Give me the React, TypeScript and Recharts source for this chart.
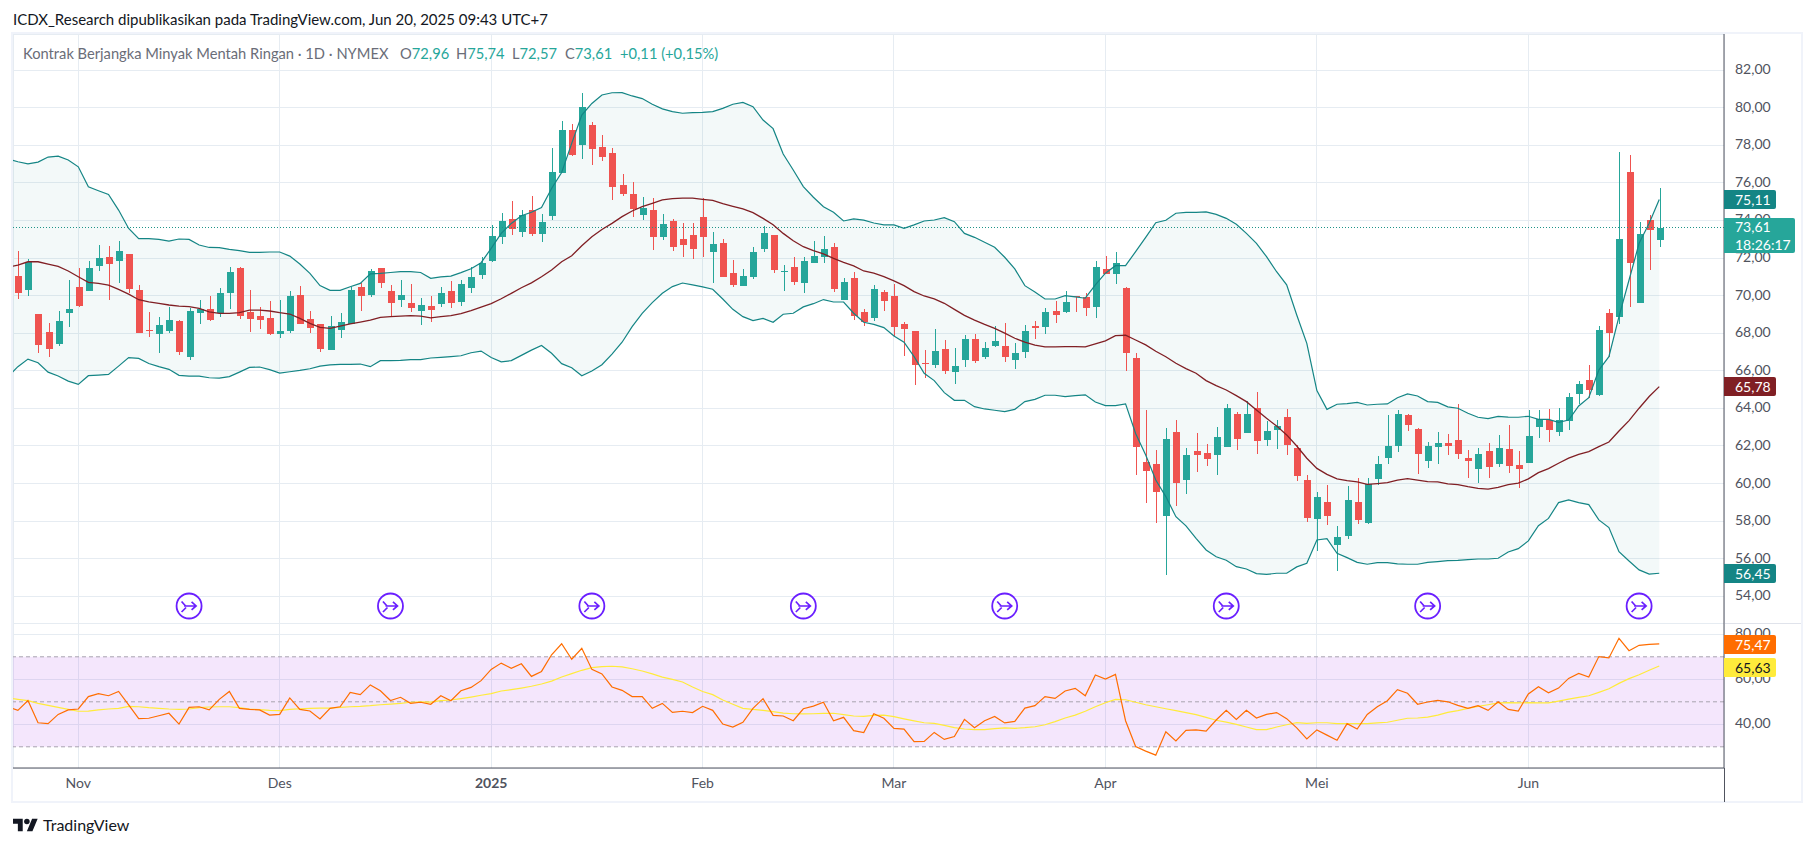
import React from "react";
import {
  Area,
  Bar,
  CartesianGrid,
  ComposedChart,
  Line,
  ReferenceArea,
  ReferenceLine,
  XAxis,
  YAxis,
} from "recharts";

// daily bars, Oct 2024 - Jun 2025.
const opens = [
  71.04, 70.31, 69.02, 68.06, 67.44, 69.09, 70.45, 70.26, 71.59, 72.03,
  71.86, 72.19, 70.29, 68.17, 67.97, 68.13, 68.65, 66.75, 69.09, 69.27,
  69.05, 70.15, 71.47, 69.12, 68.91, 68.81, 67.97, 68.13, 70.01, 68.73,
  68.49, 67.12, 68.17, 68.5, 70.45, 70.03, 71.47, 70.24, 69.76, 69.6,
  69.18, 69.44, 69.55, 70.24, 69.66, 70.42, 71.09, 71.84, 73.11, 74.07,
  73.38, 74.55, 73.27, 74.23, 76.52, 78.81, 78.01, 79.07, 77.9, 77.58,
  75.88, 75.41, 74.29, 74.55, 73.12, 73.97, 73.01, 73.23, 74.18, 72.32,
  72.8, 71.2, 70.51, 70.99, 72.48, 73.23, 71.26, 71.52, 70.67, 71.74,
  72.06, 72.59, 69.77, 70.94, 69.13, 68.81, 70.19, 69.98, 68.49, 68.12,
  66.42, 66.31, 67.16, 65.94, 66.58, 67.69, 66.74, 67.32, 67.32, 66.58,
  67.0, 68.39, 68.33, 69.18, 69.13, 69.98, 69.93, 69.4, 71.42, 71.15,
  70.41, 66.68, 61.15, 61.04, 58.29, 62.74, 60.19, 61.73, 61.63, 61.52,
  61.95, 63.7, 62.69, 64.02, 62.32, 62.85, 63.54, 61.9, 60.19, 58.12,
  59.02, 56.74, 57.22, 59.02, 57.91, 60.25, 61.36, 62.0, 63.65, 62.91,
  61.2, 61.95, 62.16, 62.32, 61.36, 60.78, 61.73, 61.04, 61.84, 60.99,
  61.1, 63.01, 63.38, 62.75, 63.33, 64.77, 65.51, 64.71, 69.08, 68.86,
  76.58, 69.61, 74.02, 72.96,
];
const highs = [
  72.37, 71.94, 69.02, 68.54, 69.16, 70.83, 71.45, 71.84, 72.67, 72.62,
  72.88, 72.23, 70.56, 69.12, 68.86, 69.39, 68.7, 69.32, 69.76, 69.98,
  70.38, 71.54, 71.5, 70.29, 69.37, 69.71, 69.76, 70.24, 70.51, 69.18,
  68.49, 68.91, 69.05, 70.47, 70.68, 71.39, 71.47, 70.56, 70.83, 70.61,
  69.87, 69.98, 70.44, 70.77, 70.83, 71.54, 72.03, 73.75, 74.37, 75.03,
  74.55, 75.29, 74.34, 77.85, 79.28, 79.12, 80.76, 79.23, 78.54, 77.85,
  76.47, 76.04, 75.25, 75.19, 74.34, 74.08, 73.86, 73.86, 75.19, 73.38,
  73.01, 71.9, 71.42, 72.59, 73.7, 73.23, 71.63, 72.06, 72.06, 72.91,
  73.17, 72.8, 70.94, 71.26, 69.29, 70.57, 70.3, 70.62, 68.6, 68.12,
  67.11, 68.23, 67.64, 67.22, 67.91, 67.96, 67.53, 68.39, 68.54, 67.48,
  68.44, 68.65, 69.34, 69.71, 70.25, 69.98, 70.14, 71.84, 72.11, 72.32,
  70.46, 66.95, 63.92, 61.79, 62.94, 63.38, 61.89, 62.69, 62.11, 63.01,
  64.24, 63.81, 64.4, 64.87, 63.33, 63.38, 63.97, 62.05, 60.46, 59.55,
  59.93, 57.75, 59.87, 60.3, 60.3, 61.47, 63.65, 63.92, 63.7, 62.94,
  62.21, 62.75, 62.64, 64.24, 61.79, 61.9, 62.16, 62.59, 63.12, 61.73,
  63.92, 63.92, 63.97, 64.02, 64.82, 65.46, 66.31, 68.38, 69.29, 77.64,
  77.48, 73.92, 74.29, 75.74,
];
const lows = [
  69.82, 69.98, 66.96, 66.75, 67.33, 68.34, 69.37, 70.26, 71.32, 69.76,
  70.67, 70.12, 68.0, 67.81, 66.96, 68.0, 66.84, 66.57, 68.49, 68.66,
  68.88, 69.27, 68.73, 68.08, 68.2, 67.9, 67.72, 68.0, 68.49, 68.0,
  67.0, 67.1, 67.74, 68.49, 69.18, 69.9, 70.42, 68.88, 69.39, 69.12,
  68.43, 68.61, 69.39, 69.34, 69.44, 70.14, 70.88, 71.8, 72.72, 73.22,
  73.11, 73.17, 72.85, 74.02, 76.5, 77.42, 77.26, 76.94, 77.16, 75.08,
  75.3, 74.18, 74.02, 72.43, 72.96, 72.37, 72.06, 71.95, 72.06, 70.67,
  71.0, 70.46, 70.51, 70.89, 72.32, 71.2, 70.25, 70.57, 70.14, 71.74,
  71.74, 70.19, 69.77, 68.7, 68.39, 68.65, 69.18, 67.85, 66.79, 65.25,
  65.62, 66.15, 65.83, 65.3, 66.2, 66.42, 66.63, 67.27, 66.47, 66.1,
  66.68, 67.69, 67.96, 68.54, 69.08, 69.13, 68.92, 68.81, 71.15, 70.62,
  66.0, 60.46, 58.99, 57.92, 55.14, 58.81, 59.45, 60.62, 60.94, 60.46,
  61.95, 61.79, 62.69, 61.58, 62.0, 61.84, 61.52, 60.14, 57.98, 56.43,
  57.8, 55.35, 57.06, 57.85, 57.85, 59.93, 61.04, 61.68, 62.8, 60.51,
  60.83, 61.04, 61.52, 61.31, 60.3, 60.03, 60.3, 60.88, 60.57, 59.77,
  61.08, 62.43, 62.21, 62.53, 62.85, 64.24, 64.55, 64.66, 66.74, 68.49,
  69.4, 69.61, 71.36, 72.57,
];
const closes = [
  70.15, 71.8, 67.39, 67.17, 68.63, 69.27, 69.46, 71.45, 71.98, 71.7,
  72.35, 70.37, 68.03, 68.13, 68.43, 68.7, 67.01, 69.18, 69.27, 68.7,
  70.12, 71.25, 68.93, 68.75, 68.7, 67.95, 68.11, 69.96, 68.49, 68.27,
  67.17, 68.38, 68.59, 70.29, 69.98, 71.31, 70.67, 69.6, 70.03, 69.34,
  69.5, 69.23, 70.14, 69.6, 70.61, 70.99, 71.73, 73.17, 73.96, 73.54,
  74.28, 73.27, 73.91, 76.57, 78.81, 77.48, 80.03, 77.79, 77.37, 75.77,
  75.41, 74.61, 74.66, 73.12, 73.81, 72.59, 72.69, 72.48, 73.12, 72.75,
  71.0, 70.57, 71.04, 72.32, 73.33, 71.36, 71.31, 70.73, 71.84, 72.11,
  72.48, 70.35, 70.73, 68.92, 68.6, 70.35, 69.71, 68.33, 68.23, 66.31,
  66.36, 67.06, 65.99, 66.26, 67.69, 66.52, 67.22, 67.59, 66.74, 66.95,
  68.12, 68.28, 69.13, 68.97, 69.66, 69.93, 69.34, 71.52, 71.15, 71.74,
  66.95, 61.96, 60.67, 59.55, 62.37, 60.03, 61.52, 61.52, 61.31, 62.48,
  64.02, 62.37, 63.7, 62.27, 62.8, 63.07, 62.05, 60.41, 58.17, 59.29,
  58.28, 57.16, 59.13, 58.07, 59.98, 61.04, 62.0, 63.7, 63.12, 61.58,
  62.0, 62.16, 62.0, 61.58, 61.2, 61.58, 60.88, 61.9, 60.94, 60.78,
  62.53, 63.44, 62.85, 63.38, 64.61, 65.3, 64.98, 68.17, 68.01, 73.01,
  71.74, 73.28, 73.49, 73.61,
];

// bollinger bands. first value is the bar just left of the visible range
const bbUpper = [
  77.26,
  77.12, 77.01, 77.1, 77.37, 77.42, 77.21, 76.85, 75.79, 75.58, 75.38,
  74.55, 73.57, 73.03, 73.03, 72.99, 72.9, 73.01, 72.99, 72.69, 72.56,
  72.55, 72.46, 72.39, 72.3, 72.3, 72.32, 72.32, 72.1, 71.68, 71.18,
  70.53, 70.28, 70.28, 70.47, 70.65, 71.16, 71.18, 71.23, 71.27, 71.27,
  71.23, 70.92, 71.0, 71.04, 71.22, 71.43, 71.75, 72.51, 73.31, 73.84,
  74.25, 74.43, 74.69, 75.7, 76.55, 78.1, 79.6, 80.22, 80.67, 80.79,
  80.8, 80.62, 80.48, 80.18, 79.93, 79.79, 79.7, 79.73, 79.75, 79.79,
  79.96, 80.18, 80.28, 80.05, 79.34, 78.88, 77.53, 76.68, 75.8, 75.23,
  74.73, 74.43, 73.97, 74.08, 74.01, 73.86, 73.76, 73.76, 73.58, 73.76,
  73.97, 74.02, 74.15, 73.93, 73.31, 73.1, 72.84, 72.57, 72.04, 71.42,
  70.53, 70.19, 69.82, 69.82, 70.0, 69.93, 69.86, 70.57, 71.19, 71.59,
  71.59, 72.34, 73.1, 73.88, 74.01, 74.38, 74.43, 74.43, 74.45, 74.32,
  74.11, 73.79, 73.31, 72.78, 72.07, 71.27, 70.57, 68.97, 67.46, 64.95,
  63.95, 64.22, 64.25, 64.32, 64.18, 64.22, 64.24, 64.57, 64.77, 64.66,
  64.36, 64.32, 64.08, 64.01, 63.74, 63.53, 63.46, 63.58, 63.54, 63.53,
  63.58, 63.42, 63.42, 63.26, 63.38, 64.13, 64.57, 66.04, 66.75, 68.88,
  70.83, 72.78, 73.85, 75.11,
];
const bbBasis = [
  71.52,
  71.62, 71.8, 71.8, 71.68, 71.55, 71.31, 71.0, 70.7, 70.65, 70.56,
  70.33, 70.08, 69.78, 69.67, 69.59, 69.5, 69.44, 69.41, 69.32, 69.14,
  69.05, 69.05, 69.09, 69.23, 69.23, 69.18, 69.09, 69.02, 68.79, 68.52,
  68.31, 68.26, 68.38, 68.49, 68.59, 68.7, 68.84, 68.88, 68.91, 68.93,
  68.91, 68.82, 68.88, 68.93, 69.04, 69.2, 69.39, 69.57, 69.83, 70.12,
  70.42, 70.68, 71.0, 71.36, 71.8, 72.12, 72.65, 73.13, 73.52, 73.84,
  74.2, 74.5, 74.73, 74.91, 75.09, 75.16, 75.19, 75.18, 75.12, 75.07,
  74.89, 74.75, 74.61, 74.41, 74.11, 73.77, 73.31, 72.92, 72.6, 72.39,
  72.22, 71.98, 71.77, 71.58, 71.31, 71.19, 71.01, 70.78, 70.53, 70.21,
  69.98, 69.82, 69.59, 69.27, 68.95, 68.7, 68.47, 68.26, 68.0, 67.73,
  67.52, 67.36, 67.27, 67.27, 67.29, 67.29, 67.27, 67.43, 67.59, 67.87,
  67.89, 67.64, 67.38, 67.04, 66.75, 66.4, 66.12, 65.87, 65.48, 65.21,
  64.98, 64.68, 64.36, 63.92, 63.47, 63.07, 62.59, 62.0, 61.35, 60.81,
  60.49, 60.25, 60.16, 60.09, 59.96, 60.0, 60.05, 60.19, 60.26, 60.19,
  60.1, 60.09, 59.98, 59.95, 59.84, 59.75, 59.71, 59.8, 59.95, 60.03,
  60.25, 60.58, 60.8, 61.08, 61.35, 61.56, 61.7, 61.97, 62.21, 62.8,
  63.35, 64.01, 64.63, 65.16,
];
const bbLower = [
  65.68,
  66.22, 66.62, 66.43, 65.93, 65.72, 65.45, 65.28, 65.74, 65.77, 65.81,
  66.25, 66.7, 66.66, 66.39, 66.22, 66.08, 65.76, 65.72, 65.72, 65.63,
  65.61, 65.69, 65.93, 66.18, 66.2, 66.06, 65.88, 65.95, 66.02, 66.11,
  66.25, 66.31, 66.34, 66.34, 66.36, 66.22, 66.54, 66.54, 66.55, 66.59,
  66.59, 66.68, 66.71, 66.75, 66.8, 66.96, 67.05, 66.71, 66.48, 66.54,
  66.82, 67.1, 67.35, 66.93, 66.38, 66.16, 65.74, 65.99, 66.32, 66.89,
  67.52, 68.35, 69.06, 69.63, 70.12, 70.48, 70.67, 70.57, 70.46, 70.34,
  69.82, 69.27, 68.88, 68.67, 68.79, 68.58, 69.01, 69.06, 69.4, 69.57,
  69.79, 69.66, 69.66, 69.06, 68.58, 68.47, 68.3, 67.85, 67.52, 66.75,
  65.87, 65.48, 64.84, 64.43, 64.43, 64.09, 63.97, 63.9, 63.83, 63.95,
  64.36, 64.48, 64.7, 64.7, 64.63, 64.68, 64.72, 64.34, 64.15, 64.15,
  64.24, 62.67, 61.52, 60.19, 59.31, 58.24, 57.75, 57.09, 56.47, 56.11,
  55.92, 55.58, 55.46, 55.21, 55.17, 55.23, 55.23, 55.57, 55.76, 57.0,
  57.07, 56.29, 56.06, 55.81, 55.71, 55.8, 55.8, 55.73, 55.71, 55.71,
  55.81, 55.85, 55.9, 55.92, 55.96, 55.99, 55.99, 56.03, 56.36, 56.54,
  56.95, 57.76, 58.15, 58.99, 59.13, 58.99, 58.88, 58.07, 57.66, 56.38,
  55.88, 55.41, 55.19, 55.23,
];

const rsiValues = [
  47.8,
  46.2, 50.6, 40.7, 40.3, 44.4, 46.4, 46.8, 52.3, 53.6, 52.7,
  54.6, 48.6, 42.5, 42.7, 43.8, 44.9, 40.1, 47.5, 47.8, 46.4,
  51.1, 54.6, 47.1, 46.6, 46.4, 44.1, 44.4, 51.7, 46.6, 45.9,
  42.4, 47.1, 47.8, 54.2, 53.2, 57.5, 54.9, 50.6, 52.0, 49.3,
  49.8, 48.9, 52.7, 50.5, 54.9, 56.4, 59.4, 64.4, 67.2, 64.9,
  66.9, 61.3, 63.5, 70.9, 75.8, 68.9, 73.8, 64.4, 62.4, 56.6,
  55.1, 52.3, 52.3, 47.1, 49.3, 45.3, 45.8, 45.2, 48.0, 46.2,
  40.1, 38.8, 40.9, 47.1, 51.4, 44.0, 43.7, 41.6, 46.9, 48.1,
  49.8, 41.6, 43.1, 37.2, 36.3, 44.7, 42.7, 38.2, 37.9, 32.3,
  32.4, 36.4, 33.3, 34.6, 42.2, 38.5, 41.6, 43.5, 40.6, 41.3,
  47.2, 48.3, 52.3, 51.5, 54.8, 56.0, 52.7, 61.9, 60.1, 62.2,
  41.6, 30.1, 28.1, 26.3, 36.7, 32.6, 37.3, 37.5, 37.0, 41.9,
  46.2, 42.2, 46.2, 42.8, 44.4, 45.2, 42.5, 38.4, 33.5, 37.5,
  35.2, 32.9, 40.3, 37.9, 44.4, 47.8, 50.5, 55.4, 53.8, 48.9,
  49.9, 50.6, 50.0, 48.4, 47.1, 48.3, 46.2, 50.0, 46.6, 45.9,
  53.5, 56.7, 54.0, 56.1, 60.4, 62.6, 61.0, 70.1, 69.5, 78.2,
  72.7, 75.1, 75.5, 75.7,
];
const rsiMa = [
  51.7,
  51.1, 50.5, 49.3, 48.4, 47.5, 46.6, 45.8, 45.9, 46.4, 46.8,
  47.1, 48.0, 47.8, 47.4, 47.1, 46.8, 46.6, 46.8, 47.4, 47.7,
  47.8, 47.8, 47.4, 46.8, 46.5, 46.2, 46.1, 46.6, 46.9, 47.1,
  47.2, 47.2, 47.5, 47.8, 48.0, 48.3, 48.7, 49.0, 49.3, 49.8,
  50.0, 49.9, 50.5, 50.8, 51.4, 52.1, 52.9, 53.6, 54.8, 55.4,
  56.1, 56.9, 57.9, 59.2, 61.0, 62.5, 64.0, 65.2, 65.6, 65.8,
  65.5, 64.7, 63.7, 62.4, 61.0, 60.0, 58.8, 56.6, 54.6, 53.2,
  50.8, 48.9, 47.1, 46.6, 46.2, 45.6, 45.0, 44.7, 44.6, 44.7,
  44.9, 44.9, 44.3, 43.7, 43.5, 44.0, 44.1, 43.4, 42.4, 41.5,
  40.7, 40.4, 39.5, 38.5, 37.9, 37.6, 37.6, 38.1, 38.4, 38.2,
  38.5, 38.9, 39.8, 41.2, 42.8, 44.1, 45.8, 47.8, 49.6, 51.1,
  50.9, 49.8, 48.7, 47.8, 46.9, 46.1, 45.2, 44.3, 43.1, 41.8,
  41.0, 40.0, 38.8, 37.6, 37.6, 38.8, 39.8, 40.7, 40.4, 40.7,
  40.7, 40.3, 40.3, 40.3, 40.3, 40.6, 40.9, 41.8, 42.7, 42.8,
  43.2, 44.1, 45.3, 46.1, 47.1, 48.0, 48.7, 49.5, 49.6, 49.5,
  49.6, 49.5, 49.5, 50.3, 51.2, 52.0, 52.7, 54.2, 55.8, 58.2,
  60.3, 62.0, 64.0, 65.9,
];

// contract roll markers
const rollDays = [17, 37, 57, 78, 98, 120, 140, 161];
const rollLevel = 53.49;

const monthTicks = [6, 26, 47, 68, 87, 108, 129, 150];
const monthLabels = ["Nov", "Des", "2025", "Feb", "Mar", "Apr", "Mei", "Jun"];
const priceTicks = [54, 56, 58, 60, 62, 64, 66, 68, 70, 72, 74, 76, 78, 80, 82];
const rsiTicks = [40, 60, 80];
const lastClose = 73.61;

const rows = bbUpper.map((upper, k) => {
  const day = k - 1;
  const hasBar = day >= 0;
  return {
    day,
    upper,
    basis: bbBasis[k],
    lower: bbLower[k],
    band: [bbLower[k], upper],
    range: hasBar ? [lows[day], highs[day]] : undefined,
    open: hasBar ? opens[day] : undefined,
    close: hasBar ? closes[day] : undefined,
    high: hasBar ? highs[day] : undefined,
    low: hasBar ? lows[day] : undefined,
    roll: rollDays.includes(day) ? rollLevel : undefined,
    rsi: rsiValues[k],
    rsiMa: rsiMa[k],
  };
});

const UP = "#26a69a";
const DOWN = "#ef5350";
const BAND = "#148585";
const BASIS = "#801f24";
const GRID = "#e6ecf2";
const AXIS = "#50535e";
const FONT = "Lato, 'Open Sans', sans-serif";
const xDomain: [number, number] = [-0.485, 169.43];

function Candle(props: any) {
  const { x, y, width, height, payload } = props;
  if (!payload.range) return null;
  const { open, close, high, low } = payload;
  const h = Math.abs(height);
  const unit = h / (high - low);
  const cx = Math.round(x + width / 2);
  const top = Math.min(open, close);
  const bodyTop = y + (high - Math.max(open, close)) * unit;
  const bodyH = Math.max((Math.max(open, close) - top) * unit, 1);
  const color = close >= open ? UP : DOWN;
  return (
    <g shapeRendering="crispEdges">
      <rect x={cx} y={y} width={1} height={h} fill={color} />
      <rect x={cx - 3} y={bodyTop} width={7} height={bodyH} fill={color} />
    </g>
  );
}

function RollIcon(props: any) {
  const { cx, cy, value, index } = props;
  if (value == null || cy == null) return <g key={index} />;
  return (
    <g key={index} transform={`translate(${cx},${cy})`} fill="none" stroke="#6a1fff">
      <circle r={12.5} strokeWidth={1.8} fill="#fff" />
      <path d="M-5 0H7M2.5 -4L7 0L2.5 4M-7.5 -4.5L-3.5 0M-3 1.5L-7.5 6" strokeWidth={1.7} />
    </g>
  );
}

function MonthTick({ x, y, payload }: any) {
  const label = monthLabels[monthTicks.indexOf(payload.value)];
  return (
    <text
      x={x}
      y={y + 12}
      textAnchor="middle"
      fontFamily={FONT}
      fontSize={14}
      fontWeight={label === "2025" ? 700 : 400}
      fill={AXIS}
    >
      {label}
    </text>
  );
}

const priceLabel = (v: number) => v.toFixed(2).replace(".", ",");

function Badge({ top, height, bg, color, lines, width }: any) {
  return (
    <div
      style={{
        position: "absolute",
        left: 1724,
        top,
        width,
        height,
        background: bg,
        color,
        fontFamily: FONT,
        fontSize: 14,
        lineHeight: `${height / lines.length}px`,
        paddingLeft: 11,
        boxSizing: "border-box",
        borderRadius: "0 2px 2px 0",
      }}
    >
      {lines.map((l: string) => (
        <div key={l}>{l}</div>
      ))}
    </div>
  );
}

export default function App() {
  return (
    <div style={{ position: "absolute", left: 0, top: 0, width: 1814, height: 847, background: "#fff", overflow: "hidden" }}>
      <div style={{ position: "absolute", left: 13, top: 10, fontFamily: FONT, fontSize: 15, color: "#131722", whiteSpace: "nowrap" }}>
        ICDX_Research dipublikasikan pada TradingView.com, Jun 20, 2025 09:43 UTC+7
      </div>

      <div style={{ position: "absolute", left: 11, top: 32, width: 1792, height: 771, border: "2px solid #f0f3fa", boxSizing: "border-box" }} />

      <div style={{ position: "absolute", left: 13, top: 34 }}>
        <ComposedChart width={1788} height={589} data={rows} margin={{ top: 0, right: 0, bottom: 0, left: 0 }}>
          <CartesianGrid stroke={GRID} shapeRendering="crispEdges" />
          <XAxis dataKey="day" type="number" domain={xDomain} allowDataOverflow ticks={monthTicks} hide />
          <YAxis
            orientation="right"
            width={77}
            domain={[52.585, 83.915]}
            allowDataOverflow
            ticks={priceTicks}
            interval={0}
            tickLine={false}
            tickMargin={5}
            stroke={AXIS}
            tick={{ fontSize: 14, fill: AXIS, fontFamily: FONT, dy: -1 }}
            tickFormatter={priceLabel}
          />
          <Area dataKey="band" stroke="none" fill={BAND} fillOpacity={0.05} isAnimationActive={false} />
          <ReferenceLine y={lastClose} stroke="#1f9488" strokeDasharray="1 2" shapeRendering="crispEdges" />
          <Line dataKey="upper" stroke={BAND} strokeWidth={1.2} dot={false} isAnimationActive={false} />
          <Line dataKey="lower" stroke={BAND} strokeWidth={1.2} dot={false} isAnimationActive={false} />
          <Line dataKey="basis" stroke={BASIS} strokeWidth={1.3} dot={false} isAnimationActive={false} />
          <Bar dataKey="range" barSize={7} shape={<Candle />} isAnimationActive={false} />
          <Line dataKey="roll" stroke="none" dot={RollIcon} isAnimationActive={false} />
        </ComposedChart>
      </div>

      <div style={{ position: "absolute", left: 13, top: 623, borderTop: "1px solid #e0e3eb", width: 1788 }} />

      <div style={{ position: "absolute", left: 13, top: 623 }}>
        <ComposedChart width={1788} height={179} data={rows} margin={{ top: 0, right: 0, bottom: 0, left: 0 }}>
          <CartesianGrid stroke={GRID} shapeRendering="crispEdges" />
          <XAxis
            dataKey="day"
            type="number"
            domain={xDomain}
            allowDataOverflow
            ticks={monthTicks}
            interval={0}
            height={34}
            tickLine={false}
            stroke={AXIS}
            tick={<MonthTick />}
          />
          <YAxis
            orientation="right"
            width={77}
            domain={[20.58, 85.02]}
            allowDataOverflow
            ticks={rsiTicks}
            interval={0}
            tickLine={false}
            tickMargin={5}
            stroke={AXIS}
            tick={{ fontSize: 14, fill: AXIS, fontFamily: FONT, dy: -1 }}
            tickFormatter={priceLabel}
          />
          <ReferenceArea y1={30} y2={70} fill="#9105e1" fillOpacity={0.1} stroke="none" />
          <ReferenceLine y={70} stroke="#a8a3b0" strokeDasharray="4 3" />
          <ReferenceLine y={50} stroke="#a8a3b0" strokeDasharray="4 3" />
          <ReferenceLine y={30} stroke="#a8a3b0" strokeDasharray="4 3" />
          <Line dataKey="rsiMa" stroke="#ffeb3b" strokeWidth={1.2} dot={false} isAnimationActive={false} />
          <Line dataKey="rsi" stroke="#ff6d00" strokeWidth={1.2} dot={false} isAnimationActive={false} />
        </ComposedChart>
      </div>

      <div style={{ position: "absolute", left: 1724, top: 768, width: 1, height: 34, background: AXIS }} />

      <div style={{ position: "absolute", left: 23, top: 44, fontFamily: FONT, fontSize: 14.7, color: "#6a6d78", whiteSpace: "nowrap" }}>
        Kontrak Berjangka Minyak Mentah Ringan · 1D · NYMEX
      </div>
      {[
        [400, "O", "72,96"],
        [456, "H", "75,74"],
        [512, "L", "72,57"],
        [565, "C", "73,61"],
      ].map(([left, key, val]) => (
        <div key={key as string} style={{ position: "absolute", left: left as number, top: 44, fontFamily: FONT, fontSize: 14.7, color: UP, whiteSpace: "nowrap" }}>
          <span style={{ color: "#6a6d78" }}>{key}</span>
          {val}
        </div>
      ))}
      <div style={{ position: "absolute", left: 620, top: 44, fontFamily: FONT, fontSize: 14.7, color: UP, whiteSpace: "nowrap" }}>
        +0,11 (+0,15%)
      </div>

      <Badge top={190} height={19} width={52} bg="#148585" color="#fff" lines={["75,11"]} />
      <Badge top={218} height={35} width={71} bg={UP} color="#fff" lines={["73,61", "18:26:17"]} />
      <Badge top={377} height={19} width={52} bg="#801f24" color="#fff" lines={["65,78"]} />
      <Badge top={564} height={19} width={52} bg="#148585" color="#fff" lines={["56,45"]} />
      <Badge top={635} height={19} width={52} bg="#ff6d00" color="#fff" lines={["75,47"]} />
      <Badge top={658} height={19} width={52} bg="#ffeb3b" color="#131722" lines={["65,63"]} />

      <svg style={{ position: "absolute", left: 13, top: 816 }} width={25} height={19.5} viewBox="0 0 36 28" fill="#131722">
        <path d="M14 22H7V11H0V4h14v18zM28 22h-8l7.5-18h8L28 22z" />
        <circle cx={20} cy={8} r={4} />
      </svg>
      <div style={{ position: "absolute", left: 43, top: 815, fontFamily: FONT, fontSize: 16, color: "#131722", whiteSpace: "nowrap" }}>
        TradingView
      </div>
    </div>
  );
}
